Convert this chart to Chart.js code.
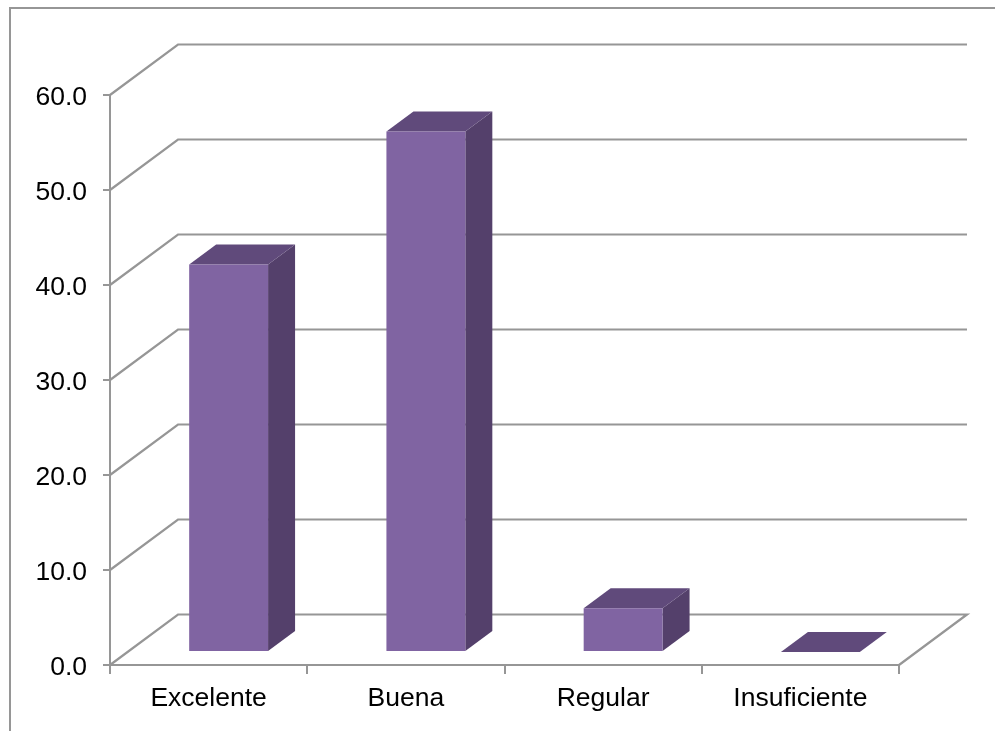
<!DOCTYPE html>
<html>
<head>
<meta charset="utf-8">
<style>
  html, body { margin: 0; padding: 0; background: #fff; }
  #wrap { position: absolute; left: 0; top: 0; width: 995px; height: 731px; }
  #frame { position: absolute; left: 9px; top: 7px; width: 1100px; height: 1000px; border: 2px solid #969696; box-sizing: border-box; }
  #clip { position: absolute; left: 0; top: 0; width: 995px; height: 731px; overflow: hidden; }
</style>
</head>
<body>
<div id="clip"><div id="frame"></div></div>
<div id="wrap"><canvas id="chart" width="995" height="731"></canvas></div>
<script src="https://cdn.jsdelivr.net/npm/chart.js@4"></script>
<script>
const categories = ['Excelente', 'Buena', 'Regular', 'Insuficiente'];
const percentages = [40.8, 54.8, 4.6, 0];
const tickStep = 10;
const maxValue = 60;

const lineColor = '#969696';
const wallDepth = { x: 68, y: -50.5 };
const barDepth = { x: 27, y: -20 };
const barShift = { x: 20, y: -13 };
const labelFont = { family: 'Liberation Sans', size: 26.5 };

// back wall and floor lines, drawn behind the bars
const wallPlugin = {
  id: 'wall',
  beforeDatasetsDraw(chart) {
    const { ctx, scales: { x, y } } = chart;
    ctx.save();
    ctx.strokeStyle = lineColor;
    ctx.lineWidth = 2.2;
    for (let v = 0; v <= maxValue; v += tickStep) {
      const py = y.getPixelForValue(v);
      ctx.beginPath();
      ctx.moveTo(x.left, py);
      ctx.lineTo(x.left + wallDepth.x, py + wallDepth.y);
      ctx.lineTo(x.right + wallDepth.x, py + wallDepth.y);
      if (v === 0) ctx.lineTo(x.right, py);
      ctx.stroke();
    }
    ctx.restore();
  }
};

// extruded sides for each bar
const depthPlugin = {
  id: 'depth',
  beforeDatasetDraw(chart, args) {
    const ctx = chart.ctx;
    ctx.save();
    ctx.translate(barShift.x, barShift.y);
    args.meta.data.forEach(bar => {
      const l = bar.x - bar.width / 2;
      const r = bar.x + bar.width / 2;
      ctx.fillStyle = '#54406b';
      ctx.beginPath();
      ctx.moveTo(r, bar.y);
      ctx.lineTo(r + barDepth.x, bar.y + barDepth.y);
      ctx.lineTo(r + barDepth.x, bar.base + barDepth.y);
      ctx.lineTo(r, bar.base);
      ctx.closePath();
      ctx.fill();
      ctx.fillStyle = '#604a7b';
      ctx.beginPath();
      ctx.moveTo(l, bar.y);
      ctx.lineTo(l + barDepth.x, bar.y + barDepth.y);
      ctx.lineTo(r + barDepth.x, bar.y + barDepth.y);
      ctx.lineTo(r, bar.y);
      ctx.closePath();
      ctx.fill();
    });
  },
  afterDatasetDraw(chart) {
    chart.ctx.restore();
  }
};

// value labels sit a little below their tick
const labelNudgePlugin = {
  id: 'labelNudge',
  afterUpdate(chart) {
    chart.scales.y.getLabelItems().forEach(item => { item.textOffset += 3; });
  }
};

new Chart(document.getElementById('chart'), {
  type: 'bar',
  data: {
    labels: categories,
    datasets: [{
      data: percentages,
      backgroundColor: '#8064a2',
      borderWidth: 0,
      barPercentage: 1,
      categoryPercentage: 0.4
    }]
  },
  options: {
    responsive: false,
    animation: false,
    layout: { padding: { top: 95, right: 96, bottom: 0, left: 0 } },
    plugins: { legend: { display: false }, tooltip: { enabled: false } },
    scales: {
      x: {
        grid: { drawOnChartArea: false, color: lineColor, lineWidth: 2, tickLength: 9, offset: true },
        border: { color: lineColor, width: 2 },
        ticks: { color: '#000', font: labelFont, padding: 9, maxRotation: 0 },
        afterFit(scale) { scale.height = 66; }
      },
      y: {
        min: 0,
        max: maxValue,
        grid: { drawOnChartArea: false, color: lineColor, lineWidth: 2, tickLength: 7 },
        border: { color: lineColor, width: 2 },
        ticks: {
          stepSize: tickStep,
          color: '#000',
          padding: 16,
          font: labelFont,
          callback: v => v.toFixed(1)
        },
        afterFit(scale) { scale.width = 110; }
      }
    }
  },
  plugins: [wallPlugin, depthPlugin, labelNudgePlugin]
});
</script>
</body>
</html>
